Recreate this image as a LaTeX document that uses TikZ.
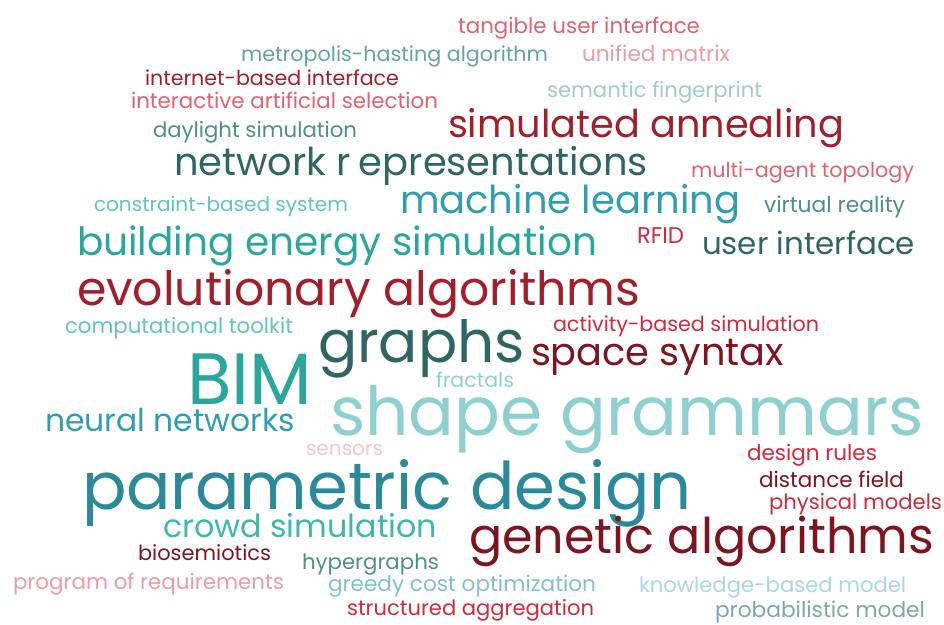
\documentclass[tikz,border=0pt]{standalone}
\usepackage{fontspec}
\setmainfont{Poppins}
\usepackage{graphicx}
\definecolor{darkred}{HTML}{7E1420}
\definecolor{wine}{HTML}{A41E2A}
\definecolor{brightred}{HTML}{CF2B3B}
\definecolor{pinkred}{HTML}{E06272}
\definecolor{lightpink}{HTML}{EC9AA6}
\definecolor{palepink}{HTML}{F5C4CC}
\definecolor{darkteal}{HTML}{2F6664}
\definecolor{grayteal}{HTML}{4E8F8B}
\definecolor{mutedteal}{HTML}{64A4A1}
\definecolor{deepteal}{HTML}{2A8A9A}
\definecolor{blueteal}{HTML}{2D9FB1}
\definecolor{greenteal}{HTML}{2AA79C}
\definecolor{crowdteal}{HTML}{3CB8AE}
\definecolor{softteal}{HTML}{62C4BF}
\definecolor{lightteal}{HTML}{8DD0CF}
\definecolor{paleteal}{HTML}{A4CACA}
\definecolor{skyteal}{HTML}{A8D8E0}
\definecolor{greedyteal}{HTML}{80C1CF}
\definecolor{probteal}{HTML}{7AA9AA}
\tikzset{word/.style={anchor=base west,inner sep=0pt,outer sep=0pt}}
\newcommand{\fitw}[2]{\resizebox{#1pt}{!}{#2}}
\begin{document}
\begin{tikzpicture}[x=1pt,y=-1pt]
\useasboundingbox (0,0) rectangle (944,624);
% top rows
\node[word,text=pinkred] (tui) at (458,33) {\fitw{242}{tangible user interface}};
\node[word,text=mutedteal] (mha) at (241,61) {\fitw{307}{metropolis-hasting algorithm}};
\node[word,text=lightpink] (unm) at (582,61) {\fitw{148}{unified matrix}};
\node[word,text=wine] (ibi) at (145,85) {\fitw{254}{internet-based interface}};
\node[word,text=paleteal] (smf) at (547,97) {\fitw{215}{semantic fingerprint}};
\node[word,text=pinkred] (ias) at (131,108) {\fitw{307}{interactive artificial selection}};
\node[word,text=wine] (sia) at (448,137) {\fitw{396}{simulated annealing}};
\node[word,text=grayteal] (dls) at (153,137) {\fitw{204}{daylight simulation}};
\node[word,text=darkteal] (ntr) at (174,175) {\fitw{474}{network r\hspace{.2em}epresentations}};
\node[word,text=pinkred] (mat) at (691,177) {\fitw{223}{multi-agent topology}};
\node[word,text=softteal] (cbs) at (94,211) {\fitw{254}{constraint-based system}};
\node[word,text=blueteal] (mcl) at (400,213) {\fitw{340}{machine learning}};
\node[word,text=grayteal] (vrt) at (764,212) {\fitw{141}{virtual reality}};
\node[word,text=greenteal] (bes) at (77,255) {\fitw{520}{building energy simulation}};
\node[word,text=brightred] (rfid) at (637,243) {\fitw{47}{RFID}};
\node[word,text=darkteal] (uif) at (702,254) {\fitw{213}{user interface}};
\node[word,text=wine] (evo) at (77,305) {\fitw{563}{evolutionary algorithms}};
% middle rows
\node[word,text=softteal] (ctk) at (65,333) {\fitw{228}{computational toolkit}};
\node[word,text=brightred] (abs) at (553,331) {\fitw{266}{activity-based simulation}};
\node[word,text=darkteal] (grp) at (318,362) {\fitw{207}{graphs}};
\node[word,text=greenteal] (bim) at (187,404) {\fitw{125}{BIM}};
\node[word,text=darkred] (spx) at (531,365) {\fitw{253}{space syntax}};
\node[word,text=lightteal] (frc) at (436,387) {\fitw{78}{fractals}};
\node[word,text=lightteal] (shg) at (330,435) {\fitw{594}{shape grammars}};
\node[word,text=blueteal] (nnw) at (45,431) {\fitw{250}{neural networks}};
\node[word,text=palepink] (sns) at (306,455) {\fitw{77}{sensors}};
\node[word,text=brightred] (dru) at (747,460) {\fitw{130}{design rules}};
\node[word,text=deepteal] (pmd) at (82,509) {\fitw{610}{parametric design}};
\node[word,text=darkred] (dsf) at (759,487) {\fitw{145}{distance field}};
\node[word,text=brightred] (phm) at (769,509) {\fitw{173}{physical models}};
% bottom rows
\node[word,text=crowdteal] (cws) at (163,537) {\fitw{274}{crowd simulation}};
\node[word,text=darkred] (gna) at (469,553) {\fitw{465}{genetic algorithms}};
\node[word,text=darkred] (bsm) at (138,560) {\fitw{133}{biosemiotics}};
\node[word,text=grayteal] (hyg) at (302,569) {\fitw{137}{hypergraphs}};
\node[word,text=lightpink] (por) at (13,589) {\fitw{271}{program of requirements}};
\node[word,text=greedyteal] (gco) at (328,591) {\fitw{268}{greedy cost optimization}};
\node[word,text=skyteal] (kbm) at (639,592) {\fitw{267}{knowledge-based model}};
\node[word,text=brightred] (sta) at (347,615) {\fitw{247}{structured aggregation}};
\node[word,text=probteal] (prm) at (715,617) {\fitw{210}{probabilistic model}};
\end{tikzpicture}
\end{document}
